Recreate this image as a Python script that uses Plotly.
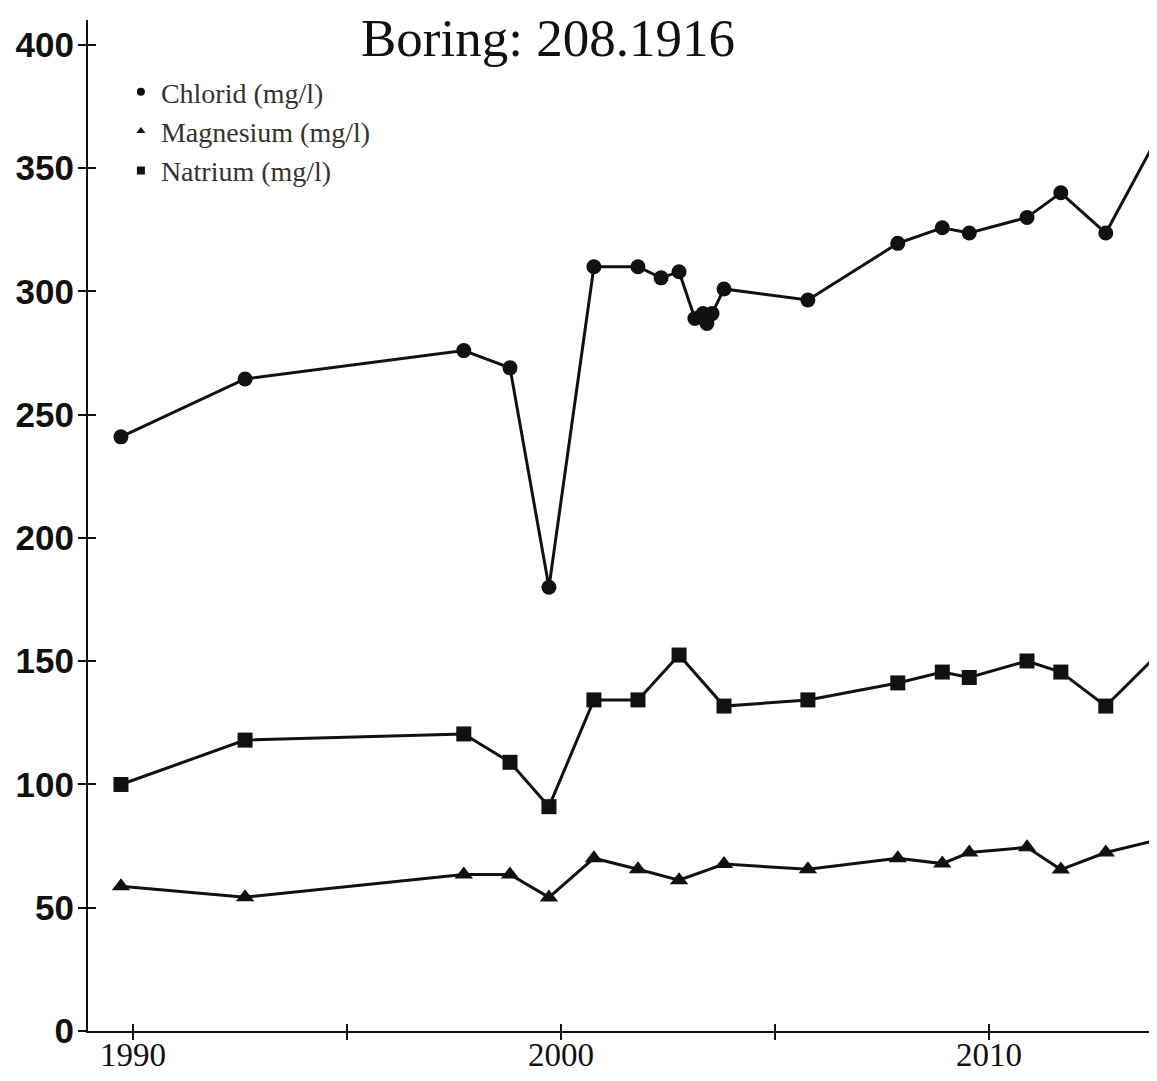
import plotly.graph_objects as go

# Sampling dates (decimal years)
chlorid_dates = [1989.72, 1992.62, 1997.73, 1998.81, 1999.72, 2000.77, 2001.80, 2002.34,
                 2002.76, 2003.13, 2003.32, 2003.41, 2003.53, 2003.81, 2005.77, 2007.87,
                 2008.91, 2009.54, 2010.89, 2011.68, 2012.73, 2013.79]
chlorid_values = [241, 264.5, 276, 269, 180, 310, 310, 305.5,
                  308, 289, 291, 287, 291, 301, 296.5, 319.5,
                  325.8, 323.7, 330, 340, 323.7, 357.8]

other_dates = [1989.72, 1992.62, 1997.73, 1998.81, 1999.72, 2000.77, 2001.80, 2002.76,
               2003.81, 2005.77, 2007.87, 2008.91, 2009.54, 2010.89, 2011.68, 2012.73, 2013.79]
natrium_values = [100, 118, 120.5, 109, 91, 134.3, 134.3, 152.5,
                  131.8, 134.3, 141.2, 145.6, 143.4, 150.1, 145.6, 131.8, 150.1]
magnesium_values = [58.7, 54.3, 63.5, 63.5, 54.2, 70.1, 65.6, 61.2,
                    67.7, 65.6, 70.1, 67.9, 72.4, 74.5, 65.5, 72.4, 76.9]

x_tickvals = [1990, 1995, 2000, 2005, 2010]
x_ticktext = ["1990", "", "2000", "", "2010"]
y_tickvals = [0, 50, 100, 150, 200, 250, 300, 350, 400]

title_text = "Boring: 208.1916"
names = ["Chlorid (mg/l)", "Magnesium (mg/l)", "Natrium (mg/l)"]

FONT = "Liberation Serif"
INK = "#111111"

fig = go.Figure()

series = [
    (chlorid_dates, chlorid_values, "circle", names[0]),
    (other_dates, magnesium_values, "triangle-up", names[1]),
    (other_dates, natrium_values, "square", names[2]),
]

for xs, ys, sym, nm in series:
    fig.add_trace(go.Scatter(
        x=xs, y=ys, mode="lines+markers", name=nm, showlegend=False,
        line=dict(color=INK, width=3),
        marker=dict(symbol=sym, size=15 if sym != "triangle-up" else 16, color=INK),
        cliponaxis=False,
    ))

# legend-only entries (small symbols as in the reference legend)
for xs, ys, sym, nm in series:
    fig.add_trace(go.Scatter(
        x=[None], y=[None], mode="markers", name=nm, showlegend=True,
        marker=dict(symbol=sym, size=8, color=INK),
        xaxis="x2", yaxis="y2",
    ))

W, H = 1141, 1065
L, T, B = 80, 12, 42
PX_PER_YEAR = 42.8
x0 = 1988.95
xr = [x0, x0 + (W - L) / PX_PER_YEAR]
yr = [0, 410.1]

fig.update_layout(
    width=W, height=H,
    margin=dict(l=L, r=0, t=T, b=B, autoexpand=False),
    paper_bgcolor="white", plot_bgcolor="white",
    font=dict(family=FONT, color=INK),
    title=dict(text=title_text, font=dict(family=FONT, size=53, color=INK),
               x=540 / W, xanchor="center", xref="container",
               y=1 - 29 / H, yanchor="middle", yref="container"),
    showlegend=True,
    legend=dict(x=0.031, y=0.9535, xanchor="left", yanchor="top",
                bgcolor="rgba(0,0,0,0)", font=dict(family=FONT, size=28, color="#333333"),
                tracegroupgap=0, itemsizing="trace"),
    xaxis=dict(range=xr, showgrid=False, zeroline=False, showline=True, linecolor=INK,
               linewidth=2, ticks="outside", ticklen=7, tickwidth=2, tickcolor=INK,
               tickvals=x_tickvals, ticktext=x_ticktext, automargin=False,
               ticklabelstandoff=-14,
               tickfont=dict(family=FONT, size=33, color=INK)),
    yaxis=dict(range=yr, showgrid=False, zeroline=False, showline=True, linecolor=INK,
               linewidth=2, ticks="outside", ticklen=8, tickwidth=2, tickcolor=INK,
               tickvals=y_tickvals, automargin=False, ticklabelstandoff=-3,
               tickfont=dict(family="Liberation Sans", size=35,
                             color=INK, weight="bold")),
    xaxis2=dict(range=xr, overlaying="x", anchor="y2", side="bottom", showgrid=False,
                zeroline=False, showline=False, ticks="inside", ticklen=7, tickwidth=2,
                tickcolor=INK, tickvals=x_tickvals, showticklabels=False, automargin=False),
    yaxis2=dict(range=yr, overlaying="y", anchor="x2", side="left", showgrid=False,
                zeroline=False, showline=False, ticks="inside", ticklen=8, tickwidth=2,
                tickcolor=INK, tickvals=y_tickvals, showticklabels=False, automargin=False),
)

fig.write_html("out.html")
